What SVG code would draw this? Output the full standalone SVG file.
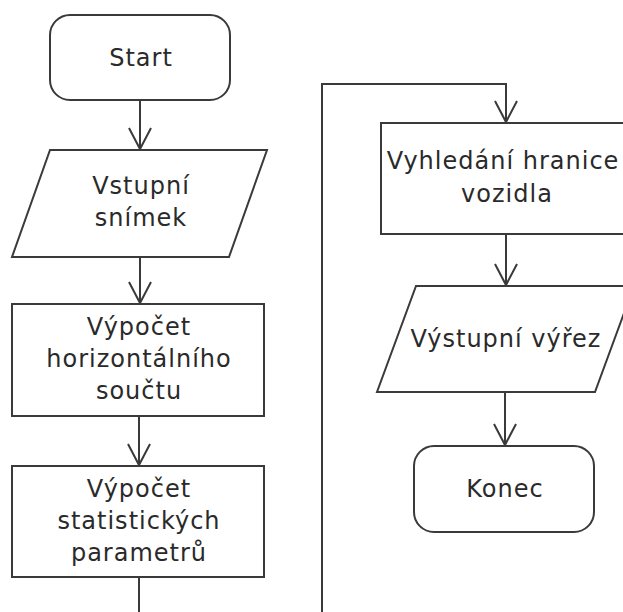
<svg xmlns="http://www.w3.org/2000/svg" width="623" height="612" viewBox="0 0 623 612">
<defs>
<style>
.shape{fill:#fff;stroke:#3a3a3a;stroke-width:2}
.edge{fill:none;stroke:#3a3a3a;stroke-width:2}
text{font-family:"DejaVu Sans",sans-serif;font-size:24px;letter-spacing:1px;fill:#2a2a2a;text-anchor:middle}
</style>
<marker id="arr" markerUnits="userSpaceOnUse" markerWidth="30" markerHeight="30" refX="22" refY="11" orient="auto" viewBox="0 0 30 22">
<path d="M1,0 L22,11 L1,22" fill="none" stroke="#3a3a3a" stroke-width="2"/>
</marker>
</defs>
<rect width="623" height="612" fill="#fff"/>
<g id="connectors">
<path class="edge" d="M140,100 V149" marker-end="url(#arr)"/>
<path class="edge" d="M140,257 V303" marker-end="url(#arr)"/>
<path class="edge" d="M139,416 V465" marker-end="url(#arr)"/>
<path class="edge" d="M139,577 V640 H322 V84 H506 V122" marker-end="url(#arr)"/>
<path class="edge" d="M506,234 V285" marker-end="url(#arr)"/>
<path class="edge" d="M505,392 V445" marker-end="url(#arr)"/>
</g>
<g id="start">
<rect class="shape" x="50" y="15" width="180" height="85" rx="20"/>
<text x="141" y="66">Start</text>
</g>
<g id="vstup">
<polygon class="shape" points="50,150 267,150 229,257 12,257"/>
<text x="141" y="194">Vstupní</text>
<text x="141" y="226">snímek</text>
</g>
<g id="horiz">
<rect class="shape" x="12" y="304" width="252" height="112"/>
<text x="139" y="335">Výpočet</text>
<text x="139" y="367">horizontálního</text>
<text x="139" y="399">součtu</text>
</g>
<g id="stat">
<rect class="shape" x="12" y="466" width="252" height="111"/>
<text x="139" y="497">Výpočet</text>
<text x="139" y="529">statistických</text>
<text x="139" y="561">parametrů</text>
</g>
<g id="hranice">
<rect class="shape" x="381" y="123" width="250" height="111"/>
<text x="503" y="169">Vyhledání hranice</text>
<text x="507" y="202">vozidla</text>
</g>
<g id="vystup">
<polygon class="shape" points="416,286 634,286 595,392 377,392"/>
<text x="506" y="347">Výstupní výřez</text>
</g>
<g id="konec">
<rect class="shape" x="414" y="446" width="180" height="86" rx="20"/>
<text x="505" y="497">Konec</text>
</g>
</svg>
